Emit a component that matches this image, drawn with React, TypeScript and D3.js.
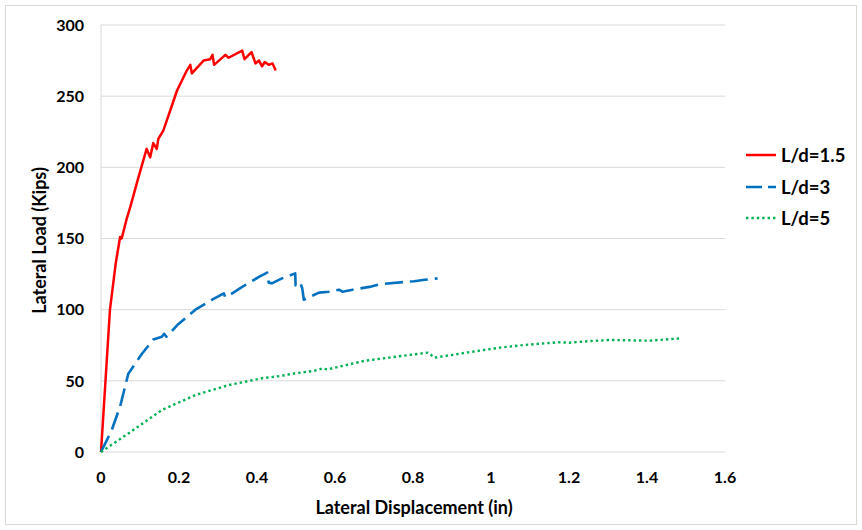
import React from "react";
import * as d3 from "d3";

const xTicks = [0, 0.2, 0.4, 0.6, 0.8, 1, 1.2, 1.4, 1.6];
const yTicks = [0, 50, 100, 150, 200, 250, 300];

const seriesNames = ["L/d=1.5", "L/d=3", "L/d=5"];

const ld15X = [0, 0.023, 0.038, 0.049, 0.053, 0.066, 0.075, 0.096, 0.117, 0.126, 0.134, 0.143, 0.147, 0.16, 0.195, 0.22, 0.229, 0.233, 0.263, 0.28, 0.286, 0.29, 0.319, 0.327, 0.362, 0.368, 0.386, 0.396, 0.405, 0.413, 0.42, 0.43, 0.44, 0.448];
const ld15Y = [0, 100, 133, 151, 150, 164, 172, 193, 213, 207, 217, 213, 220, 226, 254, 268, 272, 266, 275, 276, 279, 272, 279, 277, 282, 276, 281, 273, 275, 271, 274, 272, 273, 268];

const ld3X = [0, 0.027, 0.049, 0.07, 0.105, 0.134, 0.156, 0.162, 0.168, 0.195, 0.242, 0.285, 0.315, 0.318, 0.323, 0.362, 0.405, 0.426, 0.43, 0.438, 0.464, 0.498, 0.499, 0.505, 0.512, 0.516, 0.518, 0.52, 0.559, 0.584, 0.61, 0.619, 0.645, 0.688, 0.718, 0.803, 0.83, 0.863];
const ld3Y = [0, 15, 32, 55, 69, 79, 81, 83, 81, 89, 100, 107, 111.5, 109, 109, 116, 123, 126, 119, 118.5, 122, 125.5, 117, 119, 118, 115, 111, 107, 112, 112.6, 114, 112.6, 114, 116, 118, 120, 121, 122];

const ld5X = [0, 0.07, 0.156, 0.242, 0.327, 0.413, 0.46, 0.498, 0.546, 0.568, 0.58, 0.675, 0.743, 0.838, 0.856, 0.941, 1.022, 1.086, 1.172, 1.2, 1.258, 1.305, 1.404, 1.49];
const ld5Y = [0, 13, 29.5, 40, 47, 51.8, 53.4, 55.3, 57, 58.7, 58, 64, 66.5, 69.8, 66.3, 70, 73.3, 75.2, 77.1, 76.8, 78, 78.7, 78.2, 79.9];

const W = 862;
const H = 530;
const left = 101;
const right = 725;
const top = 25;
const bottom = 452;

export default function App() {
  const x = d3.scaleLinear().domain([0, 1.6]).range([left, right]);
  const y = d3.scaleLinear().domain([0, 300]).range([bottom, top]);
  const line = d3
    .line<[number, number]>()
    .x((d) => x(d[0]))
    .y((d) => y(d[1]));
  const zip = (a: number[], b: number[]) => a.map((v, i) => [v, b[i]] as [number, number]);

  const series = [
    { name: seriesNames[0], pts: zip(ld15X, ld15Y), color: "#ff0000", dash: "none", width: 2.5 },
    { name: seriesNames[1], pts: zip(ld3X, ld3Y), color: "#0070c0", dash: "18 7", width: 2.6 },
    { name: seriesNames[2], pts: zip(ld5X, ld5Y), color: "#00b050", dash: "2.4 3", width: 2.4 },
  ];

  const font = "Lato, 'Open Sans', sans-serif";
  const legendY = [155, 187, 218];

  return (
    <svg
      width={W}
      height={H}
      style={{ position: "absolute", left: 0, top: 0, background: "#fff" }}
      fontFamily={font}
    >
      <rect x={5.5} y={5.5} width={W - 11} height={H - 11} fill="#fff" stroke="#d9d9d9" />
      {yTicks.map((t) => (
        <line key={"g" + t} x1={left} x2={right} y1={y(t)} y2={y(t)} stroke="#d9d9d9" strokeWidth={1} />
      ))}
      <line x1={left} x2={left} y1={top} y2={bottom} stroke="#d9d9d9" />
      {yTicks.map((t) => (
        <text key={"yt" + t} x={84} y={y(t)} dy="0.36em" textAnchor="end" fontSize={16} fontWeight="bold" fill="#000">
          {t}
        </text>
      ))}
      {xTicks.map((t) => (
        <text key={"xt" + t} x={x(t)} y={483} textAnchor="middle" fontSize={16} fontWeight="bold" fill="#000">
          {t}
        </text>
      ))}
      <text x={414} y={514} textAnchor="middle" fontSize={18} fontWeight="bold" fill="#000">
        Lateral Displacement (in)
      </text>
      <text
        transform={`translate(46,${(top + bottom) / 2 + 2}) rotate(-90)`}
        textAnchor="middle"
        fontSize={18}
        fontWeight="bold"
        fill="#000"
      >
        Lateral Load (Kips)
      </text>
      {series.map((s) => (
        <path
          key={s.name}
          d={line(s.pts) || ""}
          fill="none"
          stroke={s.color}
          strokeWidth={s.width}
          strokeDasharray={s.dash}
          strokeLinejoin="round"
        />
      ))}
      {series.map((s, i) => (
        <g key={"lg" + i}>
          <line
            x1={746}
            x2={776}
            y1={legendY[i]}
            y2={legendY[i]}
            stroke={s.color}
            strokeWidth={s.width}
            strokeDasharray={s.dash === "none" ? "none" : i === 1 ? "16 6" : s.dash}
          />
          <text x={781} y={legendY[i]} dy="0.36em" fontSize={18.5} fontWeight="bold" fill="#000">
            {s.name}
          </text>
        </g>
      ))}
    </svg>
  );
}
